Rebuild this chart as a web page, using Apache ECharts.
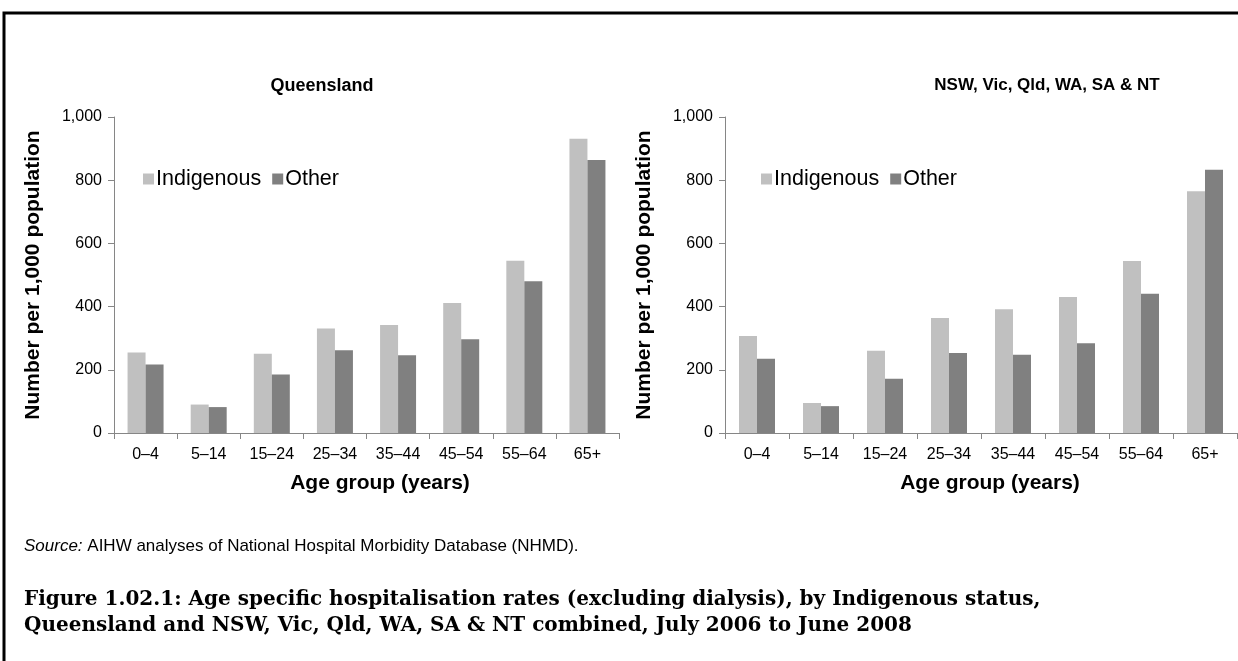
<!DOCTYPE html>
<html>
<head>
<meta charset="utf-8">
<title>Age specific hospitalisation rates</title>
<script src="https://cdn.jsdelivr.net/npm/echarts@6/dist/echarts.min.js"></script>
<style>
  html, body { margin: 0; padding: 0; background: #fff; }
  #chart { width: 1238px; height: 661px; }
</style>
</head>
<body>
<div id="chart"></div>
<script>
  // age groups on the x axis
  var ageGroups = ['0–4', '5–14', '15–24', '25–34', '35–44', '45–54', '55–64', '65+'];

  // Queensland, rate per 1,000 population
  var qldIndigenous = [255, 90, 251, 331, 342, 411, 545, 931];
  var qldOther = [217, 82, 185, 262, 246, 297, 480, 864];

  // NSW, Vic, Qld, WA, SA & NT combined
  var allIndigenous = [307, 95, 260, 364, 392, 430, 544, 765];
  var allOther = [235, 85, 172, 253, 248, 284, 441, 833];

  var yTicks = [0, 200, 400, 600, 800, 1000];

  var chart = echarts.init(document.getElementById('chart'));

  var sans = 'Liberation Sans, Arial, sans-serif';
  var axisGrey = '#868686';

  function xAxisFor(idx) {
    return {
      type: 'category',
      gridIndex: idx,
      data: ageGroups,
      axisLine: {lineStyle: {color: axisGrey, width: 1}},
      axisTick: {show: true, length: 6, lineStyle: {color: axisGrey}},
      axisLabel: {color: '#000', fontFamily: sans, fontSize: 16, margin: 14, interval: 0}
    };
  }

  function yAxisFor(idx) {
    return {
      type: 'value',
      gridIndex: idx,
      min: yTicks[0],
      max: yTicks[yTicks.length - 1],
      interval: 200,
      name: 'Number per 1,000 population',
      nameLocation: 'middle',
      nameGap: 70,
      nameTextStyle: {color: '#000', fontFamily: sans, fontSize: 21, fontWeight: 'bold'},
      axisLine: {show: true, lineStyle: {color: axisGrey, width: 1}},
      axisTick: {show: true, length: 6, lineStyle: {color: axisGrey}},
      splitLine: {show: false},
      axisLabel: {
        color: '#000', fontFamily: sans, fontSize: 16, margin: 12,
        formatter: function (v) { return v.toLocaleString('en-US'); }
      }
    };
  }

  function bars(name, data, idx, color) {
    return {
      name: name,
      type: 'bar',
      xAxisIndex: idx,
      yAxisIndex: idx,
      data: data,
      barWidth: 18,
      barGap: '0%',
      itemStyle: {color: color},
      emphasis: {disabled: true}
    };
  }

  var legendBase = {
    data: ['Indigenous', 'Other'],
    icon: 'rect',
    itemWidth: 11,
    itemHeight: 11,
    itemGap: 11,
    selectedMode: false,
    textStyle: {color: '#000', fontFamily: sans, fontSize: 21.5, padding: [0, 0, 0, -3]}
  };

  var option = {
    backgroundColor: '#fff',
    animation: false,
    title: [
      {text: 'Queensland', left: 317, top: 72, textAlign: 'center',
        textStyle: {fontFamily: sans, fontSize: 18, fontWeight: 'bold', color: '#000'}},
      {text: 'NSW, Vic, Qld, WA, SA & NT', left: 1042, top: 72, textAlign: 'center',
        textStyle: {fontFamily: sans, fontSize: 17, fontWeight: 'bold', color: '#000'}}
    ],
    legend: [
      Object.assign({left: 138, top: 163}, legendBase),
      Object.assign({left: 756, top: 163}, legendBase)
    ],
    grid: [
      {left: 114, top: 117, width: 505, height: 316},
      {left: 725, top: 117, width: 512, height: 316}
    ],
    xAxis: [xAxisFor(0), xAxisFor(1)],
    yAxis: [yAxisFor(0), yAxisFor(1)],
    series: [
      bars('Indigenous', qldIndigenous, 0, '#C0C0C0'),
      bars('Other', qldOther, 0, '#808080'),
      bars('Indigenous', allIndigenous, 1, '#C0C0C0'),
      bars('Other', allOther, 1, '#808080')
    ],
    graphic: [
      // frame round the figure
      {type: 'rect', shape: {x: 4, y: 13, width: 1300, height: 700},
        style: {fill: 'none', stroke: '#000', lineWidth: 3}, silent: true},
      {type: 'text', x: 380, y: 483,
        style: {text: 'Age group (years)', font: 'bold 21px ' + sans, fill: '#000',
          textAlign: 'center', textVerticalAlign: 'middle'}},
      {type: 'text', x: 990, y: 483,
        style: {text: 'Age group (years)', font: 'bold 21px ' + sans, fill: '#000',
          textAlign: 'center', textVerticalAlign: 'middle'}},
      {type: 'text', x: 24, y: 546,
        style: {
          text: '{i|Source:} AIHW analyses of National Hospital Morbidity Database (NHMD).',
          font: '17px ' + sans, fill: '#000', textVerticalAlign: 'middle',
          rich: {i: {fontStyle: 'italic', fontFamily: sans, fontSize: 17}}
        }},
      {type: 'text', x: 24, y: 600,
        style: {text: 'Figure 1.02.1: Age specific hospitalisation rates (excluding dialysis), by Indigenous status,',
          font: 'bold 20px DejaVu Serif, serif', fill: '#000', textVerticalAlign: 'middle'}},
      {type: 'text', x: 24, y: 626,
        style: {text: 'Queensland and NSW, Vic, Qld, WA, SA & NT combined, July 2006 to June 2008',
          font: 'bold 20px DejaVu Serif, serif', fill: '#000', textVerticalAlign: 'middle'}}
    ]
  };

  chart.setOption(option);
</script>
</body>
</html>
